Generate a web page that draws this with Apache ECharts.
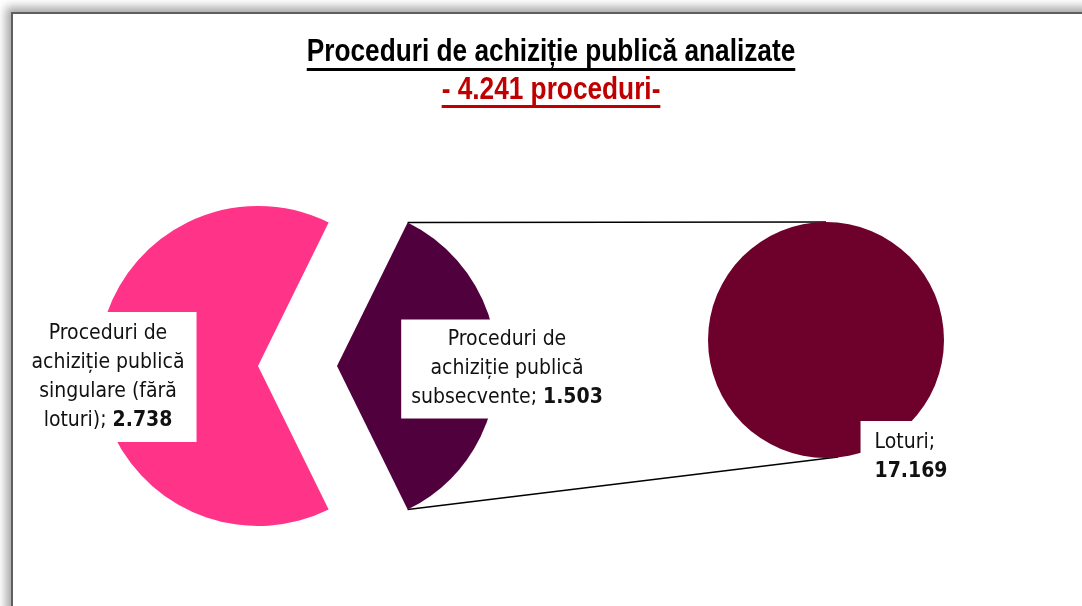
<!DOCTYPE html>
<html>
<head>
<meta charset="utf-8">
<script src="https://cdn.jsdelivr.net/npm/echarts@6/dist/echarts.min.js"></script>
<style>
  html, body { margin: 0; padding: 0; background: #fff; }
  #chart { position: absolute; left: 0; top: 0; width: 1082px; height: 606px; }
  #frame {
    position: absolute; left: 11px; top: 12px; width: 1200px; height: 800px;
    border-left: 2px solid #5f5f5f; border-top: 2px solid #5f5f5f;
    box-shadow: -5px -5px 9px rgba(0, 0, 0, 0.35);
    pointer-events: none;
  }
</style>
</head>
<body>
<div id="chart"></div>
<div id="frame"></div>
<script>
// main pie: two kinds of procedures
const mainNames = ['Proceduri de achiziție publică subsecvente', 'Proceduri de achiziție publică singulare (fără loturi)'];
const mainValues = [1503, 2738];
const mainLabels = ['Proceduri de\nachiziție publică\nsubsecvente; ', 'Proceduri de\nachiziție publică\nsingulare (fără\nloturi); '];
// secondary pie: lots of the subsequent procedures
const subNames = ['Loturi'];
const subValues = [17169];
const subLabels = ['Loturi;\n'];

const titleText = 'Proceduri de achiziție publică analizate';
const FONT = '"DejaVu Sans Condensed", "Liberation Sans Narrow", sans-serif';
const TITLE_FONT = 'bold 32px "Liberation Sans", Arial, sans-serif';
const NARROW = 0.82;

const mainCenter = [258, 366];
const mainRadius = 160;
const explode = 79;
const subCenter = [826, 340];
const subRadius = 118;

function fmt(v) {
  return String(v).replace(/\B(?=(\d{3})+(?!\d))/g, '.');
}

const total = mainValues.reduce((a, b) => a + b, 0);
const subtitleText = '- ' + fmt(total) + ' proceduri-';

// exploded slice is centred on the right
const halfAngle = 180 * mainValues[0] / total;

function textWidth(text, font) {
  const ctx = document.createElement('canvas').getContext('2d');
  ctx.font = font;
  return ctx.measureText(text).width;
}

const titleW = textWidth(titleText, TITLE_FONT) * NARROW;
const subW = textWidth(subtitleText, TITLE_FONT) * NARROW;

// connector lines from the exploded slice to the secondary pie
const rad = halfAngle * Math.PI / 180;
const sliceCx = mainCenter[0] + explode;
const topStart = [sliceCx + mainRadius * Math.cos(rad), mainCenter[1] - mainRadius * Math.sin(rad)];
const botStart = [sliceCx + mainRadius * Math.cos(rad), mainCenter[1] + mainRadius * Math.sin(rad)];
const topEnd = [subCenter[0], subCenter[1] - subRadius];
const botEnd = [subCenter[0] + 12, subCenter[1] + subRadius - 1];

const labelRich = {
  n: { fontFamily: FONT, fontSize: 21, color: '#111', lineHeight: 29 },
  b: { fontFamily: FONT, fontSize: 21, fontWeight: 'bold', color: '#111', lineHeight: 29 }
};

function richText(lines, v) {
  return '{n|' + lines.split('\n').join('}\n{n|') + '}{b|' + fmt(v) + '}';
}

const mainOffsets = [[90, 3], [-67, 11]];

const chart = echarts.init(document.getElementById('chart'));

chart.setOption({
  animation: false,
  backgroundColor: '#fff',
  graphic: [
    { type: 'text', x: 551, y: 36, scaleX: NARROW, style: { text: titleText, font: TITLE_FONT, fill: '#000', align: 'center' } },
    { type: 'rect', shape: { x: 551 - titleW / 2, y: 68, width: titleW, height: 3 }, style: { fill: '#000' } },
    { type: 'text', x: 551, y: 74, scaleX: NARROW, style: { text: subtitleText, font: TITLE_FONT, fill: '#c00000', align: 'center' } },
    { type: 'rect', shape: { x: 551 - subW / 2, y: 105, width: subW, height: 3 }, style: { fill: '#c00000' } },
    { type: 'line', shape: { x1: topStart[0], y1: topStart[1], x2: topEnd[0], y2: topEnd[1] }, style: { stroke: '#000', lineWidth: 1.5 } },
    { type: 'line', shape: { x1: botStart[0], y1: botStart[1], x2: botEnd[0], y2: botEnd[1] }, style: { stroke: '#000', lineWidth: 1.5 } }
  ],
  series: [
    {
      type: 'pie',
      center: mainCenter,
      radius: mainRadius,
      startAngle: halfAngle,
      clockwise: true,
      avoidLabelOverlap: false,
      selectedMode: 'single',
      selectedOffset: explode,
      emphasis: { disabled: true },
      labelLine: { show: false },
      data: mainValues.map((v, i) => {
        const label = {
          show: true,
          position: 'inside',
          offset: mainOffsets[i],
          backgroundColor: '#fff',
          padding: i === 0 ? [6, 10, 6, 10] : [7, 12, 7, 12],
          formatter: () => richText(mainLabels[i], v),
          rich: labelRich
        };
        return {
          name: mainNames[i],
          value: v,
          selected: i === 0,
          itemStyle: { color: i === 0 ? '#50003c' : '#ff3388' },
          label: label,
          select: { label: label }
        };
      })
    },
    {
      type: 'pie',
      center: subCenter,
      radius: subRadius,
      emphasis: { disabled: true },
      labelLine: { show: false },
      data: subValues.map((v, i) => ({
        name: subNames[i],
        value: v,
        itemStyle: { color: '#6e002c' },
        label: {
          show: true,
          position: 'inside',
          offset: [85, 55],
          backgroundColor: '#fff',
          padding: [7, 14, 7, 14],
          formatter: () => richText(subLabels[i], v),
          rich: {
            n: Object.assign({}, labelRich.n, { align: 'left' }),
            b: Object.assign({}, labelRich.b, { align: 'left' })
          }
        }
      }))
    }
  ]
});
</script>
</body>
</html>
